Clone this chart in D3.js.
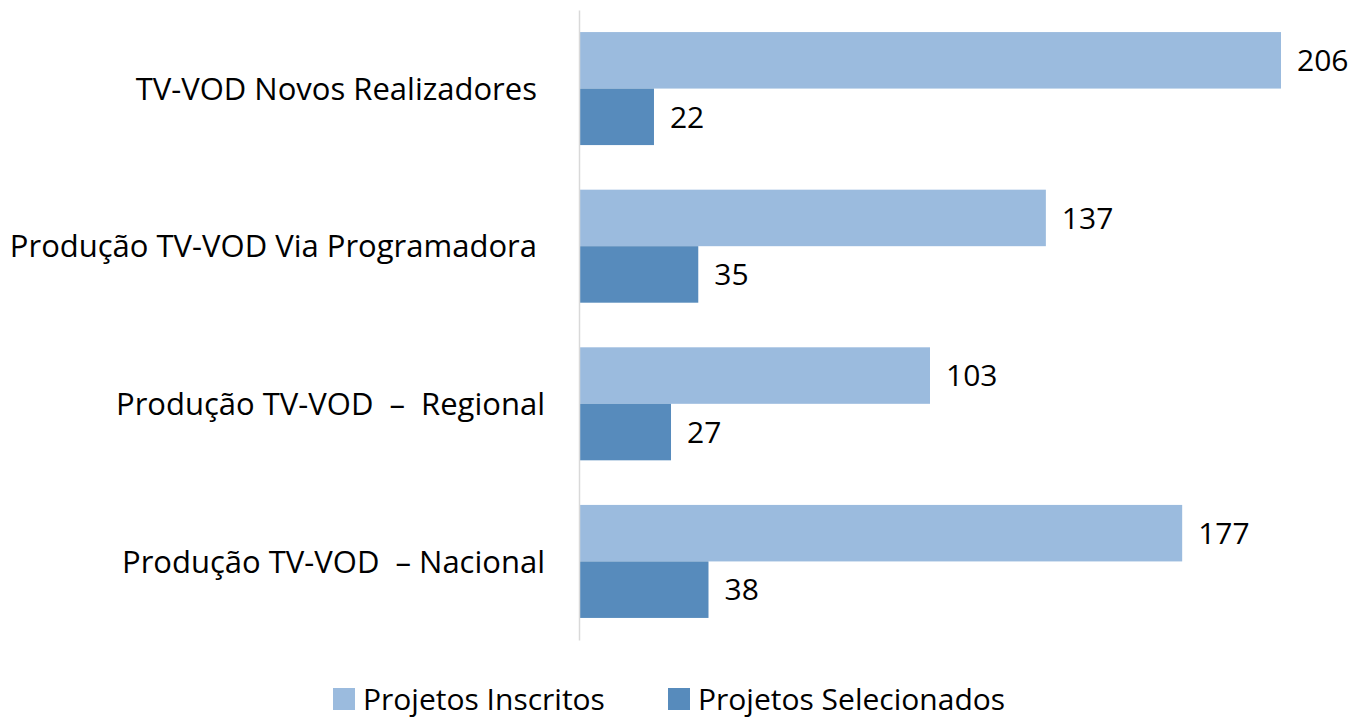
<!DOCTYPE html>
<html>
<head>
<meta charset="utf-8">
<script src="https://cdn.jsdelivr.net/npm/d3@7"></script>
<style>
  body { margin: 0; background: #fff; }
  svg text { font-family: "Open Sans", "Noto Sans", sans-serif; fill: #000; }
</style>
</head>
<body>
<div id="chart"></div>
<script>
const categories = [
  "TV-VOD Novos Realizadores ",
  "Produção TV-VOD Via Programadora ",
  "Produção TV-VOD  –  Regional",
  "Produção TV-VOD  – Nacional"
]
const series = ["Projetos Inscritos", "Projetos Selecionados"]
const inscritos = [206, 137, 103, 177]
const selecionados = [22, 35, 27, 38]
const colors = ["#9bbbde", "#578bbc"]

const width = 1353, height = 718
const margin = {top: 10, left: 579, right: 72, bottom: 78}

const rows = categories.map((c, i) => ({
  name: c,
  values: [
    {key: series[0], value: inscritos[i]},
    {key: series[1], value: selecionados[i]}
  ]
}))

const svg = d3.select("#chart").append("svg")
  .attr("width", width)
  .attr("height", height)

const x = d3.scaleLinear()
  .domain([0, 206])
  .range([margin.left, width - margin.right])

const y = d3.scaleBand()
  .domain(categories)
  .range([margin.top, height - margin.bottom])
  .paddingInner(0.283)
  .paddingOuter(0.14)

const ySub = d3.scaleBand()
  .domain(series)
  .range([0, y.bandwidth()])

const color = d3.scaleOrdinal().domain(series).range(colors)

// groups of bars
const groups = svg.append("g").selectAll("g")
  .data(rows)
  .join("g")
  .attr("transform", d => `translate(0,${y(d.name)})`)

groups.selectAll("rect")
  .data(d => d.values)
  .join("rect")
  .attr("x", x(0))
  .attr("y", d => ySub(d.key))
  .attr("width", d => x(d.value) - x(0))
  .attr("height", ySub.bandwidth())
  .attr("fill", d => color(d.key))

groups.selectAll("text.val")
  .data(d => d.values)
  .join("text")
  .attr("class", "val")
  .attr("x", d => x(d.value) + 16)
  .attr("y", d => ySub(d.key) + ySub.bandwidth() / 2)
  .attr("dy", "0.36em")
  .attr("font-size", 30)
  .text(d => d.value)

// left axis: only the line and category labels
const axis = svg.append("g")
  .attr("transform", `translate(${margin.left},0)`)
  .call(d3.axisLeft(y).tickSize(0).tickSizeOuter(0).tickPadding(34))

axis.select(".domain").attr("stroke", "#d9d9d9").attr("stroke-width", 1.5)
axis.selectAll("text")
  .attr("font-size", 31)
  .attr("dy", "0.36em")
  .style("white-space", "pre")
  .style("font-family", "'Open Sans', 'Noto Sans', sans-serif")

// legend
const legendX = [333, 668]
const legend = svg.append("g").selectAll("g")
  .data(series)
  .join("g")
  .attr("transform", (d, i) => `translate(${legendX[i]},699)`)

legend.append("rect")
  .attr("x", 0)
  .attr("y", -11)
  .attr("width", 22)
  .attr("height", 22)
  .attr("fill", d => color(d))

legend.append("text")
  .attr("x", 30)
  .attr("y", 0)
  .attr("dy", "0.36em")
  .attr("font-size", 30)
  .text(d => d)
</script>
</body>
</html>
